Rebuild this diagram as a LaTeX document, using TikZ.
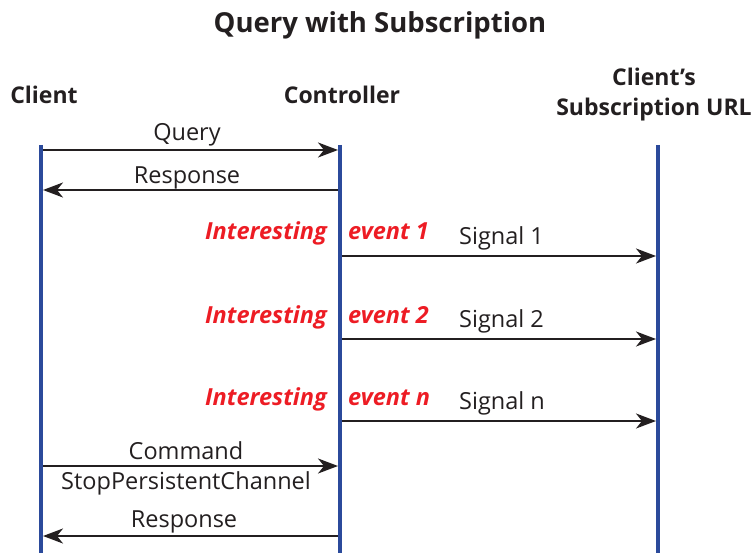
\documentclass[tikz,border=0pt]{standalone}
\usepackage{fontspec}
\setmainfont{Open Sans}
\usetikzlibrary{arrows.meta}
\definecolor{lifeblue}{HTML}{2B4A9B}
\definecolor{evred}{HTML}{ED1C24}
\definecolor{ink}{HTML}{231F20}
\begin{document}
\begin{tikzpicture}[x=1pt,y=-1pt,
  lifeline/.style={draw=lifeblue,line width=4pt},
  msg/.style={draw=ink,line width=2pt,-{Stealth[length=20pt,width=15pt,inset=6pt]}},
  lbl/.style={font=\fontsize{23.5}{26}\selectfont,text=ink,inner sep=0pt},
  hdr/.style={font=\fontsize{23}{30}\selectfont\bfseries,text=ink,inner sep=0pt,align=center},
  ev/.style={font=\fontsize{23.5}{26}\selectfont\bfseries\itshape,text=evred,inner sep=0pt}]
\useasboundingbox (0,0) rectangle (754,553);
\node[font=\fontsize{27.5}{32}\selectfont\bfseries,text=ink,inner sep=0pt] (title) at (380,25) {Query with Subscription};
\node[hdr] (hclient) at (44,95) {Client};
\node[hdr] (hctrl) at (342,95) {Controller};
\node[hdr] (hsub) at (654,95) {Client’s\\Subscription URL};
% lifelines
\coordinate (ct) at (41,145); \coordinate (cb) at (41,553);
\coordinate (kt) at (340,145); \coordinate (kb) at (340,553);
\coordinate (st) at (658,145); \coordinate (sb) at (658,553);
\draw[lifeline] (ct) -- (cb);
\draw[lifeline] (kt) -- (kb);
\draw[lifeline] (st) -- (sb);
% Query / Response
\coordinate (q1) at (43,150); \coordinate (q2) at (338,150);
\draw[msg] (q1) -- (q2);
\node[lbl] (lq) at (187,135) {Query};
\coordinate (r1) at (338,190); \coordinate (r2) at (43,190);
\draw[msg] (r1) -- (r2);
\node[lbl] (lr) at (187,178) {Response};
% events
\foreach \y/\n [count=\i] in {256/1,339/2,421/n}{
  \coordinate (s\i a) at (342,\y); \coordinate (s\i b) at (656,\y);
  \draw[msg] (s\i a) -- (s\i b);
  \node[ev,anchor=base east] (ei\i) at (327,\y-16) {Interesting};
  \node[ev,anchor=base west] (ee\i) at (348,\y-16) {event \n};
  \node[lbl,anchor=base west] (sl\i) at (459,\y-12) {Signal \n};
}
% Command
\coordinate (c1) at (43,466); \coordinate (c2) at (338,466);
\draw[msg] (c1) -- (c2);
\node[lbl] (lc) at (186,451) {Command};
\node[lbl] (lsp) at (186,483) {StopPersistentChannel};
\coordinate (r3) at (338,536); \coordinate (r4) at (43,536);
\draw[msg] (r3) -- (r4);
\node[lbl] (lr2) at (184,522) {Response};
\end{tikzpicture}
\end{document}
